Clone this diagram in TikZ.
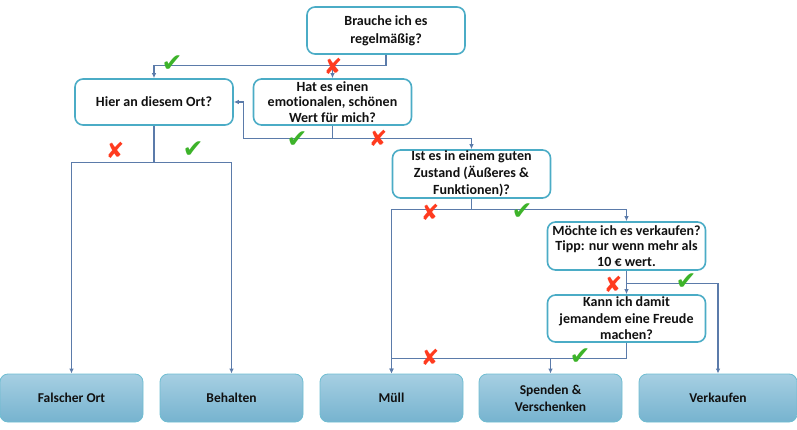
\documentclass[tikz,border=0pt]{standalone}
\usepackage{fontspec}
\setmainfont{Carlito}[Ligatures=NoCommon]
\newfontfamily\symfont{DejaVu Sans}
\usepackage{tikz}
\usetikzlibrary{arrows.meta,positioning}
\definecolor{frame}{HTML}{4BACC6}
\definecolor{link}{HTML}{5B7BAA}
\definecolor{endtop}{HTML}{A6CFE2}
\definecolor{endbot}{HTML}{76B3CF}
\definecolor{okgreen}{HTML}{3DB32A}
\definecolor{nored}{HTML}{FF3B1F}
\definecolor{ink}{HTML}{111111}

\begin{document}
\begin{tikzpicture}[
    x=1pt, y=-1pt,
    question/.style={rounded corners=8pt, draw=frame, line width=1.6pt, fill=white, text=ink, minimum width=158pt, minimum height=47pt, inner sep=1pt, align=center, font=\bfseries\fontsize{14}{17}\selectfont},
    result/.style={rounded corners=8pt, draw=frame!80, line width=0.8pt, top color=endtop, bottom color=endbot, text=ink, minimum width=143pt, minimum height=48pt, inner sep=2pt, align=center, font=\bfseries\fontsize{13.5}{17}\selectfont},
    arr/.style={-{Latex[length=5pt,width=4.5pt]}, line width=1.2pt, draw=link},
    yes/.style={text=okgreen, font=\symfont\fontsize{25}{25}\selectfont, inner sep=0pt},
    no/.style={text=nored, font=\symfont\fontsize{22}{22}\selectfont, inner sep=0pt}
  ]
  \useasboundingbox (0,0) rectangle (797,430);

  % questions
  \node[question, font=\bfseries\fontsize{14}{18}\selectfont] (brauche) at (386,30.5) {Brauche ich es\\regelmäßig?};
  \node[question, minimum height=46pt] (hier) at (154,102) {Hier an diesem Ort?};
  \node[question, minimum height=46pt, font=\bfseries\fontsize{14}{15.7}\selectfont] (wert) at (332.5,102) {Hat es einen\\emotionalen, schönen\\Wert für mich?};
  \node[question, minimum height=48pt] (zustand) at (471.5,174) {Ist es in einem guten\\Zustand (Äußeres \&\\Funktionen)?};
  \node[question, minimum height=48pt, font=\bfseries\fontsize{14}{15.5}\selectfont] (verkauf) at (626.5,246) {Möchte ich es verkaufen?\\Tipp: nur wenn mehr als\\10 € wert.};
  \node[question, font=\bfseries\fontsize{14}{16.5}\selectfont] (freude) at (626.5,318.5) {Kann ich damit\\jemandem eine Freude\\machen?};

  % results
  \node[result] (falsch) at (71.5,398) {Falscher Ort};
  \node[result] (behalten) at (231.5,398) {Behalten};
  \node[result] (muell) at (391.5,398) {Müll};
  \node[result] (spenden) at (550.5,398) {Spenden \&\\Verschenken};
  \node[result, minimum width=158pt] (verkaufen) at (718,398) {Verkaufen};

  \draw[arr] (brauche.south) -- ++(0,11) -| (hier.north);
  \draw[arr] (brauche.south) -- ++(0,11) -| (wert.north);
  \draw[arr] (wert.south) -- ++(0,13) -| ([xshift=10pt]hier.east) -- (hier.east);
  \draw[arr] (wert.south) -- ++(0,13) -| (zustand.north);
  \draw[arr] (hier.south) -- ++(0,37) -| (falsch.north);
  \draw[arr] (hier.south) -- ++(0,37) -| (behalten.north);
  \draw[arr] (zustand.south) -- ++(0,11) -| (muell.north);
  \draw[arr] (zustand.south) -- ++(0,11) -| (verkauf.north);
  \draw[arr] (verkauf.south) -- (freude.north);
  \draw[arr] (verkauf.south) -- ++(0,13) -| (verkaufen.north);
  \draw[arr] (freude.south) -- ++(0,16) -| (muell.north);
  \draw[arr] (freude.south) -- ++(0,16) -| (spenden.north);

  % yes / no marks
  \node[yes] (y1) at (172,64) {✔};
  \node[no] (n1) at (333,66) {✘};
  \node[yes] (y2) at (297,140) {✔};
  \node[no] (n2) at (378,138) {✘};
  \node[no] (n3) at (115,150) {✘};
  \node[yes] (y3) at (193,150) {✔};
  \node[no] (n4) at (430,212) {✘};
  \node[yes] (y4) at (522,212) {✔};
  \node[no] (n5) at (613,284) {✘};
  \node[yes] (y5) at (686,282) {✔};
  \node[no] (n6) at (430,357) {✘};
  \node[yes] (y6) at (580,357) {✔};
\end{tikzpicture}
\end{document}
